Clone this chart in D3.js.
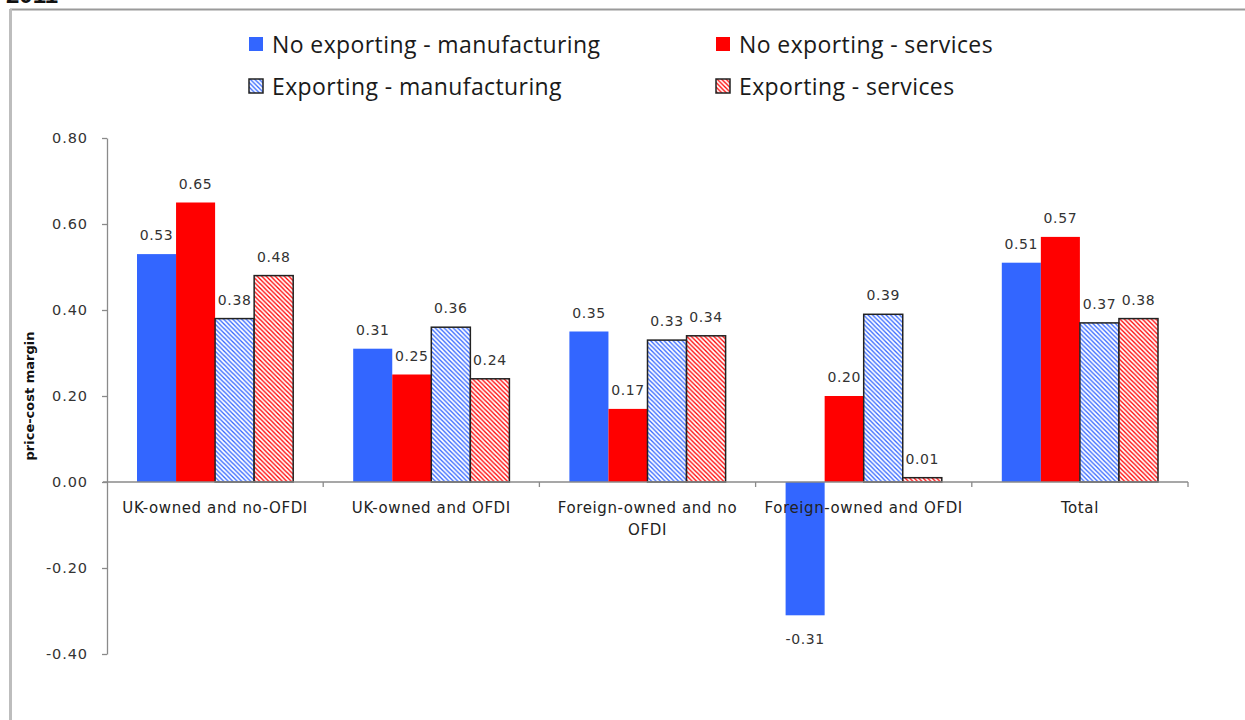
<!DOCTYPE html>
<html lang="en">
<head>
<meta charset="UTF-8">
<title>Price-cost margin</title>
<script src="https://cdn.jsdelivr.net/npm/d3@7/dist/d3.min.js"></script>
<style>
  html, body { margin: 0; padding: 0; background: #fff; }
  svg { display: block; }
</style>
</head>
<body>
<svg id="chart" width="1245" height="720"></svg>
<script>
// chart data
const categories = ["UK-owned and no-OFDI", "UK-owned and OFDI", "Foreign-owned and no OFDI", "Foreign-owned and OFDI", "Total"];
const seriesNames = ["No exporting - manufacturing", "No exporting - services", "Exporting - manufacturing", "Exporting - services"];
const noExportManuf = [0.53, 0.31, 0.35, -0.31, 0.51];
const noExportServ = [0.65, 0.25, 0.17, 0.20, 0.57];
const exportManuf = [0.38, 0.36, 0.33, 0.39, 0.37];
const exportServ = [0.48, 0.24, 0.34, 0.01, 0.38];
const yTicks = [-0.40, -0.20, 0.00, 0.20, 0.40, 0.60, 0.80];

const seriesValues = [noExportManuf, noExportServ, exportManuf, exportServ];
const seriesColor = ["#3366ff", "#ff0000", "#3366ff", "#ff0000"];
const seriesHatched = [false, false, true, true];

const svg = d3.select("#chart");
const fmt = v => d3.format(".2f")(v).replace("\u2212", "-");

// outer frame (picture is cropped on the right and bottom)
svg.append("line").attr("x1", 10).attr("x2", 1245).attr("y1", 9.5).attr("y2", 9.5)
  .attr("stroke", "#9a9a9a").attr("stroke-width", 2);
svg.append("line").attr("x1", 10.5).attr("x2", 10.5).attr("y1", 9).attr("y2", 720)
  .attr("stroke", "#bdbdbd").attr("stroke-width", 3);
svg.append("text").attr("x", 6).attr("y", 3).attr("font-family", "Liberation Sans")
  .attr("font-weight", "bold").attr("font-size", 24).attr("fill", "#111").text("2011");

// hatch patterns
const defs = svg.append("defs");
["#3366ff", "#ff0000"].forEach((c, i) => {
  const p = defs.append("pattern").attr("id", "hatch" + i)
    .attr("patternUnits", "userSpaceOnUse").attr("width", 4.5).attr("height", 4.5);
  p.append("rect").attr("width", 4.5).attr("height", 4.5).attr("fill", "#fff");
  p.append("path").attr("d", "M-1,-1L5.5,5.5M3.5,-1L5.5,1M-1,3.5L1,5.5")
    .attr("stroke", c).attr("stroke-width", 1.3);
});
const fillFor = i => seriesHatched[i] ? "url(#hatch" + (i === 2 ? 0 : 1) + ")" : seriesColor[i];

// scales
const x0 = d3.scaleBand().domain(categories).range([107, 1188]).padding(0);
const x1 = d3.scaleBand().domain(d3.range(4)).range([30, x0.bandwidth() - 30]).padding(0);
const y = d3.scaleLinear().domain([-0.4, 0.8]).range([654, 138]);

const font = "DejaVu Sans";

// y axis
const yAxis = svg.append("g").attr("transform", "translate(107,0)")
  .call(d3.axisLeft(y).tickValues(yTicks).tickFormat(fmt).tickSize(5).tickSizeOuter(0).tickPadding(14));
yAxis.select(".domain").attr("stroke", "#8a8a8a").attr("stroke-width", 1.3);
yAxis.selectAll(".tick line").attr("stroke", "#8a8a8a").attr("stroke-width", 1.3);
yAxis.selectAll(".tick text").attr("font-family", font).attr("font-size", 14.5)
  .attr("letter-spacing", 0.9).attr("fill", "#333");

svg.append("text")
  .attr("transform", "translate(34," + ((y(0.8) + y(-0.4)) / 2) + ") rotate(-90)")
  .attr("text-anchor", "middle").attr("font-family", font).attr("font-weight", "bold")
  .attr("font-size", 13).attr("fill", "#111").text("price-cost margin");

// bars
const groups = svg.append("g").selectAll("g").data(categories).join("g")
  .attr("transform", d => "translate(" + x0(d) + ",0)");

groups.selectAll("rect").data((d, ci) => seriesValues.map((vals, si) => ({ si, v: vals[ci] })))
  .join("rect")
  .attr("x", d => x1(d.si))
  .attr("y", d => y(Math.max(0, d.v)))
  .attr("width", x1.bandwidth())
  .attr("height", d => Math.abs(y(d.v) - y(0)))
  .attr("fill", d => fillFor(d.si))
  .attr("stroke", d => seriesHatched[d.si] ? "#222" : "none")
  .attr("stroke-width", 1.5);

groups.selectAll("text.val").data((d, ci) => seriesValues.map((vals, si) => ({ si, v: vals[ci] })))
  .join("text").attr("class", "val")
  .attr("x", d => x1(d.si) + x1.bandwidth() / 2)
  .attr("y", d => d.v >= 0 ? y(d.v) - 14 : y(d.v) + 29)
  .attr("text-anchor", "middle").attr("font-family", font).attr("font-size", 14)
  .attr("letter-spacing", 0.6).attr("fill", "#333")
  .text(d => fmt(d.v));

// x axis at zero
const xg = svg.append("g");
xg.append("line").attr("x1", 103).attr("x2", 1188).attr("y1", y(0)).attr("y2", y(0))
  .attr("stroke", "#8a8a8a").attr("stroke-width", 1.3);
xg.selectAll("line.tk").data(categories).join("line").attr("class", "tk")
  .attr("x1", d => x0(d) + x0.bandwidth()).attr("x2", d => x0(d) + x0.bandwidth())
  .attr("y1", y(0)).attr("y2", y(0) + 5)
  .attr("stroke", "#8a8a8a").attr("stroke-width", 1.3);

const wrapLabel = t => t === "Foreign-owned and no OFDI" ? ["Foreign-owned and no", "OFDI"] : [t];
xg.selectAll("text").data(categories).join("text")
  .attr("x", d => x0(d) + x0.bandwidth() / 2)
  .attr("y", y(0) + 31)
  .attr("text-anchor", "middle").attr("font-family", font).attr("font-size", 15)
  .attr("letter-spacing", 0.6).attr("fill", "#222")
  .selectAll("tspan").data(d => wrapLabel(d)).join("tspan")
  .attr("x", function () { return d3.select(this.parentNode).attr("x"); })
  .attr("dy", (d, i) => i === 0 ? 0 : 22)
  .text(d => d);

// legend
const legendPos = [[249, 45], [716, 45], [249, 87], [716, 87]];
const legend = svg.append("g").selectAll("g").data(seriesNames).join("g")
  .attr("transform", (d, i) => "translate(" + legendPos[i][0] + "," + legendPos[i][1] + ")");
legend.append("rect").attr("x", 0).attr("y", -8).attr("width", 14).attr("height", 14)
  .attr("fill", (d, i) => fillFor(i))
  .attr("stroke", (d, i) => seriesHatched[i] ? "#222" : "none").attr("stroke-width", 1.5);
legend.append("text").attr("x", 23).attr("y", 8)
  .attr("font-family", "Open Sans").attr("font-size", 23).attr("letter-spacing", 0.4)
  .attr("fill", "#1a1a1a")
  .text(d => d);
</script>
</body>
</html>
